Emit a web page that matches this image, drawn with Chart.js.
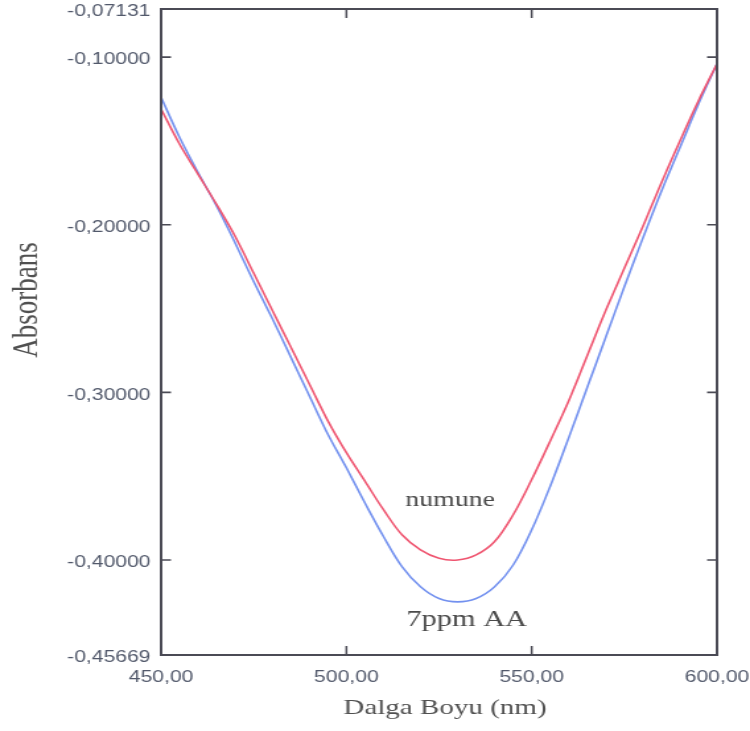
<!DOCTYPE html>
<html>
<head>
<meta charset="utf-8">
<title>Absorbans - Dalga Boyu</title>
<script src="https://cdn.jsdelivr.net/npm/chart.js@4/dist/chart.umd.min.js"></script>
<style>
  html, body { margin: 0; padding: 0; background: #ffffff; }
  #c { display: block; }
</style>
</head>
<body>
<canvas id="c" width="568" height="731" style="width:750px;height:731px;"></canvas>
<script>
// Wavelength grid (nm)
const wavelengths = [450, 455, 460, 465, 470, 475, 480, 485, 490, 495, 500, 505, 510, 515, 520,
                     525, 530, 535, 540, 545, 550, 555, 560, 565, 570, 575, 580, 585, 590, 595, 600];

// Absorbance of the sample ("numune")
const numune = [-0.131, -0.152, -0.170, -0.188, -0.207, -0.229, -0.251, -0.273, -0.295, -0.317,
                -0.336, -0.353, -0.370, -0.385, -0.394, -0.399, -0.400, -0.397, -0.389, -0.373,
                -0.352, -0.329, -0.305, -0.278, -0.251, -0.226, -0.201, -0.175, -0.150, -0.126, -0.104];

// Absorbance of the 7 ppm ascorbic acid standard
const ppm7AA = [-0.124, -0.148, -0.169, -0.189, -0.211, -0.234, -0.256, -0.279, -0.302, -0.325,
                -0.345, -0.366, -0.386, -0.404, -0.416, -0.423, -0.425, -0.423, -0.416, -0.403,
                -0.382, -0.356, -0.327, -0.297, -0.267, -0.237, -0.208, -0.180, -0.154, -0.128, -0.104];

// Axis ticks
const xTicks = [450, 500, 550, 600];
const yTicks = [-0.45669, -0.40, -0.30, -0.20, -0.10, -0.07131];

// Curve labels placed in data coordinates
const curveLabels = [
  { text: 'numune',  x: 528.0, y: -0.3643, size: 21 },
  { text: '7ppm AA', x: 532.5, y: -0.4357, size: 23 }
];

const fmtComma = (v, d) => v.toFixed(d).replace('.', ',');

const frameColor = '#4b4b55';
const tickTextColor = '#52596b';
const titleColor = '#505050';

// Frame, inward tick marks, axis titles and curve labels
const framePlugin = {
  id: 'frameAndText',
  afterDatasetsDraw(chart) {
    const { ctx, chartArea: a, scales } = chart;
    const xs = scales.x, ys = scales.y;
    ctx.save();
    ctx.strokeStyle = frameColor;
    ctx.lineWidth = 2;
    ctx.strokeRect(a.left, a.top, a.right - a.left, a.bottom - a.top);

    ctx.lineWidth = 1.6;
    ctx.beginPath();
    yTicks.forEach(v => {
      const py = ys.getPixelForValue(v);
      ctx.moveTo(a.left, py);  ctx.lineTo(a.left + 7.5, py);
      ctx.moveTo(a.right, py); ctx.lineTo(a.right - 7.5, py);
    });
    ctx.stroke();
    ctx.lineWidth = 1.5;
    ctx.beginPath();
    xTicks.forEach(v => {
      const px = xs.getPixelForValue(v);
      ctx.moveTo(px, a.bottom); ctx.lineTo(px, a.bottom - 9);
      ctx.moveTo(px, a.top);    ctx.lineTo(px, a.top + 9);
    });
    ctx.stroke();

    // Axis titles
    ctx.fillStyle = titleColor;
    ctx.textAlign = 'center';
    ctx.textBaseline = 'alphabetic';
    ctx.font = '22px "Liberation Serif", "Times New Roman", serif';
    ctx.fillText('Dalga Boyu (nm)', 337, 714);

    ctx.save();
    ctx.translate(20.5, 300);
    ctx.rotate(-Math.PI / 2);
    ctx.textBaseline = 'middle';
    ctx.font = '27px "Liberation Serif", "Times New Roman", serif';
    ctx.fillText('Absorbans', 0, 0);
    ctx.restore();

    // Curve labels
    ctx.fillStyle = '#4a4a4a';
    ctx.textBaseline = 'middle';
    curveLabels.forEach(l => {
      ctx.font = l.size + 'px "Liberation Serif", "Times New Roman", serif';
      ctx.fillText(l.text, xs.getPixelForValue(l.x), ys.getPixelForValue(l.y));
    });
    ctx.restore();
  }
};

const toPoints = (ys) => wavelengths.map((w, i) => ({ x: w, y: ys[i] }));

new Chart(document.getElementById('c'), {
  type: 'line',
  data: {
    datasets: [
      {
        label: 'numune',
        data: toPoints(numune),
        borderColor: '#ef5570',
        borderWidth: 1.6,
        pointRadius: 0,
        tension: 0.35,
        fill: false
      },
      {
        label: '7ppm AA',
        data: toPoints(ppm7AA),
        borderColor: '#7391ef',
        borderWidth: 1.6,
        pointRadius: 0,
        tension: 0.35,
        fill: false
      }
    ]
  },
  options: {
    responsive: false,
    animation: false,
    devicePixelRatio: 1,
    layout: { padding: { top: 9, right: 25, left: 0, bottom: 0 } },
    plugins: {
      legend: { display: false },
      tooltip: { enabled: false }
    },
    scales: {
      x: {
        type: 'linear',
        min: 450,
        max: 600,
        afterBuildTicks: (s) => { s.ticks = xTicks.map(v => ({ value: v })); },
        afterFit: (s) => { s.height = 76; s.paddingLeft = 0; s.paddingRight = 0; },
        grid: { display: false, drawTicks: false },
        border: { display: false },
        ticks: {
          autoSkip: false,
          maxRotation: 0,
          padding: 13,
          color: tickTextColor,
          font: { family: '"Liberation Sans", Arial, sans-serif', size: 16 },
          callback: (v) => fmtComma(v, 2)
        }
      },
      y: {
        type: 'linear',
        min: -0.45669,
        max: -0.07131,
        afterBuildTicks: (s) => { s.ticks = yTicks.map(v => ({ value: v })); },
        afterFit: (s) => { s.width = 122; s.paddingTop = 0; s.paddingBottom = 0; },
        grid: { display: false, drawTicks: false },
        border: { display: false },
        ticks: {
          autoSkip: false,
          padding: 8,
          labelOffset: 3,
          color: tickTextColor,
          font: { family: '"Liberation Sans", Arial, sans-serif', size: 16 },
          callback: (v) => fmtComma(v, 5)
        }
      }
    }
  },
  plugins: [framePlugin]
});
</script>
</body>
</html>
